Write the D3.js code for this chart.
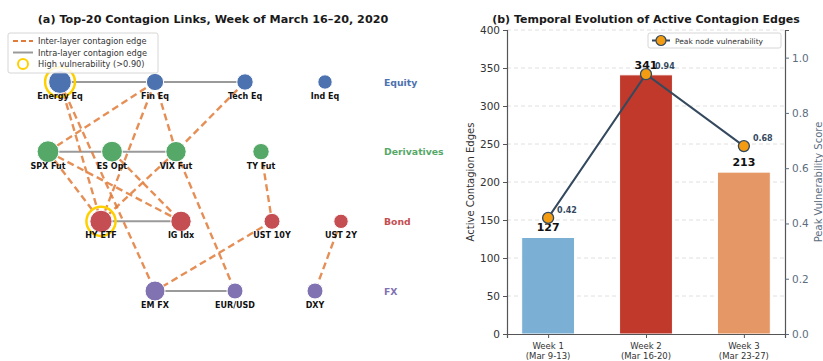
<!DOCTYPE html>
<html>
<head>
<meta charset="utf-8">
<script src="https://cdn.jsdelivr.net/npm/d3@7"></script>
<style>
  body { margin: 0; background: #fff; }
  svg { display: block; font-family: "DejaVu Sans", sans-serif; }
</style>
</head>
<body>
<svg id="chart" width="823" height="361"></svg>
<script>
// ---- Panel (a): contagion network, week of March 16-20, 2020 ----
const layers = ["Equity", "Derivatives", "Bond", "FX"];
const layerColors = ["#4c72b0", "#55a868", "#c44e52", "#8172b2"];

const nodeNames = ["Energy Eq", "Fin Eq", "Tech Eq", "Ind Eq",
                   "SPX Fut", "ES Opt", "VIX Fut", "TY Fut",
                   "HY ETF", "IG Idx", "UST 10Y", "UST 2Y",
                   "EM FX", "EUR/USD", "DXY"];
const nodeLayer = [0, 0, 0, 0, 1, 1, 1, 1, 2, 2, 2, 2, 3, 3, 3];
const nodePos = [10, 33.75, 56.25, 76.25,
                 7, 23, 39, 60.25,
                 20.25, 40.25, 63, 80.25,
                 33.75, 53.75, 73.75];
const nodeVulnerability = [0.94, 0.66, 0.62, 0.52,
                           0.89, 0.84, 0.82, 0.62,
                           0.91, 0.82, 0.60, 0.52,
                           0.80, 0.60, 0.60];

const intraEdges = [["Energy Eq", "Fin Eq"], ["Fin Eq", "Tech Eq"],
                    ["SPX Fut", "ES Opt"], ["ES Opt", "VIX Fut"],
                    ["HY ETF", "IG Idx"], ["EM FX", "EUR/USD"]];
const interEdges = [["Energy Eq", "HY ETF"], ["Energy Eq", "EM FX"],
                    ["Fin Eq", "SPX Fut"], ["Fin Eq", "HY ETF"], ["Fin Eq", "VIX Fut"],
                    ["Tech Eq", "VIX Fut"],
                    ["SPX Fut", "HY ETF"], ["SPX Fut", "IG Idx"],
                    ["ES Opt", "IG Idx"],
                    ["VIX Fut", "HY ETF"], ["VIX Fut", "EUR/USD"],
                    ["TY Fut", "UST 10Y"], ["UST 10Y", "EM FX"], ["UST 2Y", "DXY"]];
const highThreshold = 0.90;

// ---- Panel (b): weekly active edges and peak vulnerability ----
const weeks = ["Week 1", "Week 2", "Week 3"];
const weekRanges = ["(Mar 9-13)", "(Mar 16-20)", "(Mar 23-27)"];
const activeEdges = [127, 341, 213];
const peakVulnerability = [0.42, 0.94, 0.68];
const barColors = ["#7bafd4", "#c0392b", "#e59866"];
const leftTicks = [0, 50, 100, 150, 200, 250, 300, 350, 400];
const rightTicks = [0.0, 0.2, 0.4, 0.6, 0.8, 1.0];

const svg = d3.select("#chart");

// ================= Panel (a) =================
const gA = svg.append("g");
const xN = d3.scaleLinear().domain([0, 100]).range([20, 420]);
const yN = d3.scalePoint().domain(layers).range([82, 291]);
const rN = d3.scaleLinear().domain([0.5, 0.95]).range([7, 11.5]);

const nodes = nodeNames.map((name, i) => ({
  name, layer: layers[nodeLayer[i]], color: layerColors[nodeLayer[i]],
  x: xN(nodePos[i]), y: yN(layers[nodeLayer[i]]), v: nodeVulnerability[i]
}));
const byName = new Map(nodes.map(d => [d.name, d]));

gA.append("text")
  .attr("x", 213).attr("y", 23)
  .attr("text-anchor", "middle")
  .attr("font-size", 11.2).attr("font-weight", "bold").attr("fill", "#1a1a1a")
  .text("(a) Top-20 Contagion Links, Week of March 16\u201320, 2020");

gA.append("g").selectAll("line").data(intraEdges).join("line")
  .attr("x1", d => byName.get(d[0]).x).attr("y1", d => byName.get(d[0]).y)
  .attr("x2", d => byName.get(d[1]).x).attr("y2", d => byName.get(d[1]).y)
  .attr("stroke", "#9a9a9a").attr("stroke-width", 2);

gA.append("g").selectAll("line").data(interEdges).join("line")
  .attr("x1", d => byName.get(d[0]).x).attr("y1", d => byName.get(d[0]).y)
  .attr("x2", d => byName.get(d[1]).x).attr("y2", d => byName.get(d[1]).y)
  .attr("stroke", "#e07b39").attr("stroke-opacity", 0.85)
  .attr("stroke-width", 2.4).attr("stroke-dasharray", "7,4");

// vulnerability rings
gA.append("g").selectAll("circle").data(nodes.filter(d => d.v > highThreshold)).join("circle")
  .attr("cx", d => d.x).attr("cy", d => d.y).attr("r", d => rN(d.v) + 3.5)
  .attr("fill", "none").attr("stroke", "#ffd000").attr("stroke-width", 2.5);

gA.append("g").selectAll("circle").data(nodes).join("circle")
  .attr("cx", d => d.x).attr("cy", d => d.y).attr("r", d => rN(d.v))
  .attr("fill", d => d.color).attr("stroke", "#fff").attr("stroke-width", 1);

gA.append("g").selectAll("text").data(nodes).join("text")
  .attr("x", d => d.x).attr("y", d => d.y + 17)
  .attr("text-anchor", "middle")
  .attr("font-size", 8).attr("font-weight", "bold").attr("fill", "#111")
  .text(d => d.name);

gA.append("g").selectAll("text").data(layers).join("text")
  .attr("x", xN(91)).attr("y", d => yN(d) + 3.5)
  .attr("font-size", 9.3).attr("font-weight", "bold")
  .attr("fill", (d, i) => layerColors[i])
  .text(d => d);

// legend (a)
const lgA = gA.append("g").attr("transform", "translate(8,33)");
lgA.append("rect").attr("width", 150).attr("height", 40).attr("rx", 2)
  .attr("fill", "#fff").attr("fill-opacity", 0.85).attr("stroke", "#ccc").attr("stroke-width", 0.8);
lgA.append("line").attr("x1", 5).attr("x2", 25).attr("y1", 8).attr("y2", 8)
  .attr("stroke", "#e07b39").attr("stroke-width", 2).attr("stroke-dasharray", "5,3");
lgA.append("line").attr("x1", 5).attr("x2", 25).attr("y1", 19.5).attr("y2", 19.5)
  .attr("stroke", "#9a9a9a").attr("stroke-width", 2);
lgA.append("circle").attr("cx", 15).attr("cy", 31).attr("r", 5)
  .attr("fill", "none").attr("stroke", "#ffd000").attr("stroke-width", 2);
const legTextA = ["Inter-layer contagion edge", "Intra-layer contagion edge", "High vulnerability (>0.90)"];
lgA.selectAll("text.l").data(legTextA).join("text")
  .attr("x", 30).attr("y", (d, i) => 11 + i * 11.5)
  .attr("font-size", 8.2).attr("fill", "#333").text(d => d);

// ================= Panel (b) =================
const gB = svg.append("g");
const x0 = 507, x1 = 785, yBot = 334, yTop = 30;
const xB = d3.scaleLinear().domain([-0.42, 2.42]).range([x0, x1]);
const yL = d3.scaleLinear().domain([0, 400]).range([yBot, yTop]);
const yR = d3.scaleLinear().domain([0, 1.1]).range([yBot, yTop]);
const barW = 0.54;

gB.append("text")
  .attr("x", 646).attr("y", 23)
  .attr("text-anchor", "middle")
  .attr("font-size", 11).attr("font-weight", "bold").attr("fill", "#1a1a1a")
  .text("(b) Temporal Evolution of Active Contagion Edges");

// grid
gB.append("g").selectAll("line").data(leftTicks.filter(t => t > 0)).join("line")
  .attr("x1", x0).attr("x2", x1).attr("y1", d => yL(d)).attr("y2", d => yL(d))
  .attr("stroke", "#d8d8d8").attr("stroke-width", 0.8).attr("stroke-dasharray", "4,3");

// bars
gB.append("g").selectAll("rect").data(activeEdges).join("rect")
  .attr("x", (d, i) => xB(i - barW / 2)).attr("width", xB(barW) - xB(0))
  .attr("y", d => yL(d)).attr("height", d => yBot - yL(d))
  .attr("fill", (d, i) => barColors[i])
  .attr("stroke", "#fff").attr("stroke-width", 1);

gB.append("g").selectAll("text").data(activeEdges).join("text")
  .attr("x", (d, i) => xB(i)).attr("y", d => yL(d) - 6)
  .attr("text-anchor", "middle")
  .attr("font-size", 11).attr("font-weight", "bold").attr("fill", "#111")
  .text(d => d);

// axes
const axL = gB.append("g").attr("transform", `translate(${x0},0)`)
  .call(d3.axisLeft(yL).tickValues(leftTicks).tickSize(4).tickPadding(3));
axL.select(".domain").attr("stroke", "#555").attr("stroke-width", 1.2);
axL.selectAll(".tick line").attr("stroke", "#555");
axL.selectAll(".tick text").attr("font-size", 10.5).attr("fill", "#333")
  .attr("font-family", "DejaVu Sans, sans-serif");

const axR = gB.append("g").attr("transform", `translate(${x1},0)`)
  .call(d3.axisRight(yR).tickValues(rightTicks).tickFormat(d3.format(".1f")).tickSize(4).tickPadding(3));
axR.select(".domain").attr("stroke", "#555").attr("stroke-width", 1.2);
axR.selectAll(".tick line").attr("stroke", "#5d6d7e");
axR.selectAll(".tick text").attr("font-size", 10.5).attr("fill", "#5d6d7e")
  .attr("font-family", "DejaVu Sans, sans-serif");

const axX = gB.append("g").attr("transform", `translate(0,${yBot})`)
  .call(d3.axisBottom(xB).tickValues([0, 1, 2]).tickSize(4).tickFormat(""));
axX.select(".domain").attr("stroke", "#555").attr("stroke-width", 1.2);
axX.selectAll(".tick line").attr("stroke", "#555");
const xl = gB.append("g").selectAll("text").data(weeks).join("text")
  .attr("x", (d, i) => xB(i)).attr("text-anchor", "middle")
  .attr("font-size", 8.5).attr("fill", "#333");
xl.append("tspan").attr("x", (d, i) => xB(i)).attr("y", 349).text(d => d);
xl.append("tspan").attr("x", (d, i) => xB(i)).attr("y", 359).text((d, i) => weekRanges[i]);

gB.append("text")
  .attr("transform", `translate(474,${(yTop + yBot) / 2}) rotate(-90)`)
  .attr("text-anchor", "middle").attr("font-size", 10).attr("fill", "#333")
  .text("Active Contagion Edges");
gB.append("text")
  .attr("transform", `translate(822,${(yTop + yBot) / 2}) rotate(-90)`)
  .attr("text-anchor", "middle").attr("font-size", 10).attr("fill", "#5d6d7e")
  .text("Peak Vulnerability Score");

// vulnerability line
const line = d3.line().x((d, i) => xB(i)).y(d => yR(d));
gB.append("path").datum(peakVulnerability).attr("d", line)
  .attr("fill", "none").attr("stroke", "#34495e").attr("stroke-width", 2);
gB.append("g").selectAll("circle").data(peakVulnerability).join("circle")
  .attr("cx", (d, i) => xB(i)).attr("cy", d => yR(d)).attr("r", 5.5)
  .attr("fill", "#f39c12").attr("stroke", "#34495e").attr("stroke-width", 1.3);
gB.append("g").selectAll("text").data(peakVulnerability).join("text")
  .attr("x", (d, i) => xB(i) + 9).attr("y", d => yR(d) - 5)
  .attr("font-size", 8).attr("font-weight", "bold").attr("fill", "#34495e")
  .text(d => d.toFixed(2));

// legend (b)
const lgB = gB.append("g").attr("transform", "translate(648,33)");
lgB.append("rect").attr("width", 133).attr("height", 15).attr("rx", 2)
  .attr("fill", "#fff").attr("fill-opacity", 0.85).attr("stroke", "#ccc").attr("stroke-width", 0.8);
lgB.append("line").attr("x1", 4).attr("x2", 22).attr("y1", 7.5).attr("y2", 7.5)
  .attr("stroke", "#34495e").attr("stroke-width", 2);
lgB.append("circle").attr("cx", 13).attr("cy", 7.5).attr("r", 5)
  .attr("fill", "#f39c12").attr("stroke", "#34495e").attr("stroke-width", 1.2);
lgB.append("text").attr("x", 27).attr("y", 10.5).attr("font-size", 7.5).attr("fill", "#333")
  .text("Peak node vulnerability");
</script>
</body>
</html>
